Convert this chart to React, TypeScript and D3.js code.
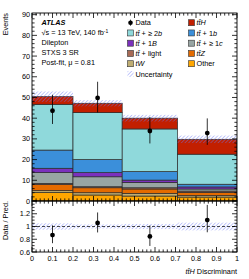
import React from "react";
import * as d3 from "d3";

const binEdges = [0, 0.2, 0.44, 0.71, 1];
const sampleNames = ["Other", "tW", "ttZ", "ttlight", "tt1c", "tt1B", "tt1b", "tt2b", "ttH"];
const other = [4.2, 2.9, 2.4, 1.9];
const tW = [0.8, 1.1, 1.3, 0.7];
const ttZ = [2.9, 2.4, 2.1, 1.6];
const ttLight = [0.6, 0.5, 0.6, 0.6];
const tt1c = [5.2, 4.8, 2.6, 1.0];
const tt1B = [2.1, 2.0, 1.1, 1.0];
const tt1b = [8.8, 6.3, 4.1, 1.3];
const tt2b = [22.1, 22.7, 20.6, 14.5];
const ttH = [3.7, 4.5, 5.2, 7.2];
const uncert = [2.5, 1.5, 1.6, 1.8];
const dataVals = [43.6, 49.8, 33.8, 32.8];
const dataErrUp = [7.7, 7.8, 6.8, 7.1];
const dataErrDown = [6.4, 7.0, 6.0, 5.7];
const mainYTicks = [0, 10, 20, 30, 40, 50, 60, 70, 80, 90];
const ratioYTicks = [0.6, 0.8, 1, 1.2];
const xTicks = [0, 0.1, 0.2, 0.3, 0.4, 0.5, 0.6, 0.7, 0.8, 0.9, 1];

const colors: Record<string, string> = {
  Other: "#ffa600",
  tW: "#bfad72",
  ttZ: "#e46b00",
  ttlight: "#a86a55",
  tt1c: "#98a5a3",
  tt1B: "#7b30bd",
  tt1b: "#3b8fda",
  tt2b: "#8fd9db",
  ttH: "#c21f00",
};
const series = [other, tW, ttZ, ttLight, tt1c, tt1B, tt1b, tt2b, ttH];

const L = 32, R = 237, MT = 13, MB = 201, RT = 201, RB = 252;
const FONT = "'Liberation Sans', Arial, Helvetica, sans-serif";
const FS = 7.3;

const TT = (
  <tspan fontStyle="italic">t{"t\u0304"}</tspan>
);

export default function App() {
  const x = d3.scaleLinear().domain([0, 1]).range([L, R]);
  const y = d3.scaleLinear().domain([0, 90.8]).range([MB, MT]);
  const yr = d3.scaleLinear().domain([0.6, 1.4]).range([RB, RT]);

  const nb = binEdges.length - 1;
  const stacks: { k: string; x0: number; x1: number; y0: number; y1: number }[] = [];
  const totals: number[] = [];
  for (let b = 0; b < nb; b++) {
    let acc = 0;
    series.forEach((s, i) => {
      stacks.push({ k: sampleNames[i], x0: binEdges[b], x1: binEdges[b + 1], y0: acc, y1: acc + s[b] });
      acc += s[b];
    });
    totals.push(acc);
  }

  const minorX = d3.range(0, 1.0001, 0.02);
  const minorY = d3.range(0, 90.5, 2);
  const minorR = d3.range(0.6, 1.4001, 0.05);

  const tickLines: JSX.Element[] = [];
  // x ticks for both panels, top & bottom
  const xPanels = [
    [MT, MB],
    [RT, RB],
  ];
  xPanels.forEach(([t, bt], pi) => {
    minorX.forEach((v, i) => {
      const major = Math.abs(v * 10 - Math.round(v * 10)) < 1e-6;
      const len = major ? 5 : 2.6;
      tickLines.push(<line key={`xt${pi}-${i}`} x1={x(v)} x2={x(v)} y1={t} y2={t + len} stroke="#000" strokeWidth={0.8} />);
      tickLines.push(<line key={`xb${pi}-${i}`} x1={x(v)} x2={x(v)} y1={bt} y2={bt - len} stroke="#000" strokeWidth={0.8} />);
    });
  });
  minorY.forEach((v, i) => {
    const major = v % 10 === 0;
    const len = major ? 5 : 2.6;
    tickLines.push(<line key={`yl${i}`} x1={L} x2={L + len} y1={y(v)} y2={y(v)} stroke="#000" strokeWidth={0.8} />);
    tickLines.push(<line key={`yr${i}`} x1={R} x2={R - len} y1={y(v)} y2={y(v)} stroke="#000" strokeWidth={0.8} />);
  });
  minorR.forEach((v, i) => {
    const major = Math.abs(v * 5 - Math.round(v * 5)) < 1e-6;
    const len = major ? 5 : 2.6;
    tickLines.push(<line key={`rl${i}`} x1={L} x2={L + len} y1={yr(v)} y2={yr(v)} stroke="#000" strokeWidth={0.8} />);
    tickLines.push(<line key={`rr${i}`} x1={R} x2={R - len} y1={yr(v)} y2={yr(v)} stroke="#000" strokeWidth={0.8} />);
  });

  const leftLegend = [
    { type: "data", label: <tspan>Data</tspan> },
    { type: "tt2b", label: <tspan>{TT} + ≥ 2<tspan fontStyle="italic">b</tspan></tspan> },
    { type: "tt1B", label: <tspan>{TT} + 1<tspan fontStyle="italic">B</tspan></tspan> },
    { type: "ttlight", label: <tspan>{TT} + light</tspan> },
    { type: "tW", label: <tspan fontStyle="italic">tW</tspan> },
    { type: "unc", label: <tspan>Uncertainty</tspan> },
  ];
  const rightLegend = [
    { type: "ttH", label: <tspan>{TT}<tspan fontStyle="italic">H</tspan></tspan> },
    { type: "tt1b", label: <tspan>{TT} + 1<tspan fontStyle="italic">b</tspan></tspan> },
    { type: "tt1c", label: <tspan>{TT} + ≥ 1<tspan fontStyle="italic">c</tspan></tspan> },
    { type: "ttZ", label: <tspan>{TT}<tspan fontStyle="italic">Z</tspan></tspan> },
    { type: "Other", label: <tspan>Other</tspan> },
  ];
  const rowY = (i: number) => 22.7 + i * 10.25;

  const legendItem = (it: { type: string; label: JSX.Element }, i: number, bx: number, key: string) => {
    const cy = rowY(i);
    let mark: JSX.Element;
    if (it.type === "data") {
      mark = (
        <g>
          <circle cx={bx + 3} cy={cy} r={2.3} fill="#000" />
          <line x1={bx + 3} x2={bx + 3} y1={cy - 3} y2={cy + 3} stroke="#000" strokeWidth={0.8} />
        </g>
      );
    } else if (it.type === "unc") {
      mark = <rect x={bx} y={cy - 3} width={6} height={6} fill="url(#hatch)" />;
    } else {
      mark = <rect x={bx} y={cy - 3} width={6} height={6} fill={colors[it.type]} stroke="#333" strokeWidth={0.6} />;
    }
    return (
      <g key={key}>
        {mark}
        <text x={bx + 8} y={cy + 2.6} fontSize={FS} fontFamily={FONT}>{it.label}</text>
      </g>
    );
  };

  return (
    <svg width={249} height={279} style={{ position: "absolute", left: 0, top: 0, background: "#fff" }}>
      <defs>
        <pattern id="hatch" patternUnits="userSpaceOnUse" width={2.6} height={2.6} patternTransform="rotate(45)">
          <line x1={0} y1={0} x2={0} y2={2.6} stroke="#6a78f5" strokeWidth={0.8} />
        </pattern>
        <clipPath id="mainClip"><rect x={L} y={MT} width={R - L} height={MB - MT} /></clipPath>
        <clipPath id="ratioClip"><rect x={L} y={RT} width={R - L} height={RB - RT} /></clipPath>
      </defs>
      <rect x={0} y={0} width={249} height={279} fill="#fff" />
      <g clipPath="url(#mainClip)">
        {stacks.map((s, i) => (
          <rect key={i} x={x(s.x0)} y={y(s.y1)} width={x(s.x1) - x(s.x0)} height={y(s.y0) - y(s.y1)}
            fill={colors[s.k]} stroke="#2a2a2a" strokeWidth={0.7} />
        ))}
        {totals.map((t, b) => (
          <rect key={`u${b}`} x={x(binEdges[b])} y={y(t + uncert[b])} width={x(binEdges[b + 1]) - x(binEdges[b])}
            height={y(t - uncert[b]) - y(t + uncert[b])} fill="url(#hatch)" />
        ))}
        {dataVals.map((d, b) => {
          const cx = x((binEdges[b] + binEdges[b + 1]) / 2);
          return (
            <g key={`d${b}`}>
              <line x1={cx} x2={cx} y1={y(d + dataErrUp[b])} y2={y(d - dataErrDown[b])} stroke="#000" strokeWidth={0.8} />
              <circle cx={cx} cy={y(d)} r={2.4} fill="#000" />
            </g>
          );
        })}
      </g>
      <g clipPath="url(#ratioClip)">
        {totals.map((t, b) => (
          <rect key={`ru${b}`} x={x(binEdges[b])} y={yr(1 + uncert[b] / t)} width={x(binEdges[b + 1]) - x(binEdges[b])}
            height={yr(1 - uncert[b] / t) - yr(1 + uncert[b] / t)} fill="url(#hatch)" />
        ))}
        <line x1={L} x2={R} y1={yr(1)} y2={yr(1)} stroke="#000" strokeWidth={0.7} strokeDasharray="3,2" />
        {dataVals.map((d, b) => {
          const cx = x((binEdges[b] + binEdges[b + 1]) / 2);
          const t = totals[b];
          return (
            <g key={`rd${b}`}>
              <line x1={cx} x2={cx} y1={yr((d + dataErrUp[b]) / t)} y2={yr((d - dataErrDown[b]) / t)} stroke="#000" strokeWidth={0.8} />
              <circle cx={cx} cy={yr(d / t)} r={2.4} fill="#000" />
            </g>
          );
        })}
      </g>
      {tickLines}
      <rect x={L} y={MT} width={R - L} height={MB - MT} fill="none" stroke="#000" strokeWidth={0.9} />
      <rect x={L} y={RT} width={R - L} height={RB - RT} fill="none" stroke="#000" strokeWidth={0.9} />
      {mainYTicks.map((v) => (
        <text key={`myl${v}`} x={L - 2} y={y(v) + 2.6} fontSize={FS} fontFamily={FONT} textAnchor="end">{v}</text>
      ))}
      {ratioYTicks.map((v) => (
        <text key={`ryl${v}`} x={L - 2} y={yr(v) + 2.6} fontSize={FS} fontFamily={FONT} textAnchor="end">{d3.format("")(+v.toFixed(1))}</text>
      ))}
      {xTicks.map((v) => (
        <text key={`xl${v}`} x={x(v)} y={RB + 8.8} fontSize={FS} fontFamily={FONT} textAnchor="middle">{+v.toFixed(1)}</text>
      ))}
      <text x={R} y={274} fontSize={FS} fontFamily={FONT} textAnchor="end">{TT}<tspan fontStyle="italic">H</tspan> Discriminant</text>
      <text transform={`translate(8,${MT}) rotate(-90)`} fontSize={FS} fontFamily={FONT} textAnchor="end">Events</text>
      <text transform={`translate(8,${RT}) rotate(-90)`} fontSize={FS} fontFamily={FONT} textAnchor="end">Data / Pred.</text>
      <text x={41.5} y={25.3} fontSize={FS} fontFamily={FONT} fontWeight="bold" fontStyle="italic">ATLAS</text>
      <text x={41.5} y={35.3} fontSize={FS} fontFamily={FONT}>√s = 13 TeV, 140 fb<tspan dy={-2.5} fontSize={5}>-1</tspan></text>
      <text x={41.5} y={45.1} fontSize={FS} fontFamily={FONT}>Dilepton</text>
      <text x={41.5} y={55.1} fontSize={FS} fontFamily={FONT}>STXS 3 SR</text>
      <text x={41.5} y={65.1} fontSize={FS} fontFamily={FONT}>Post-fit, μ = 0.81</text>
      {leftLegend.map((it, i) => legendItem(it, i, 127.5, `ll${i}`))}
      {rightLegend.map((it, i) => legendItem(it, i, 188.5, `rl${i}`))}
    </svg>
  );
}
